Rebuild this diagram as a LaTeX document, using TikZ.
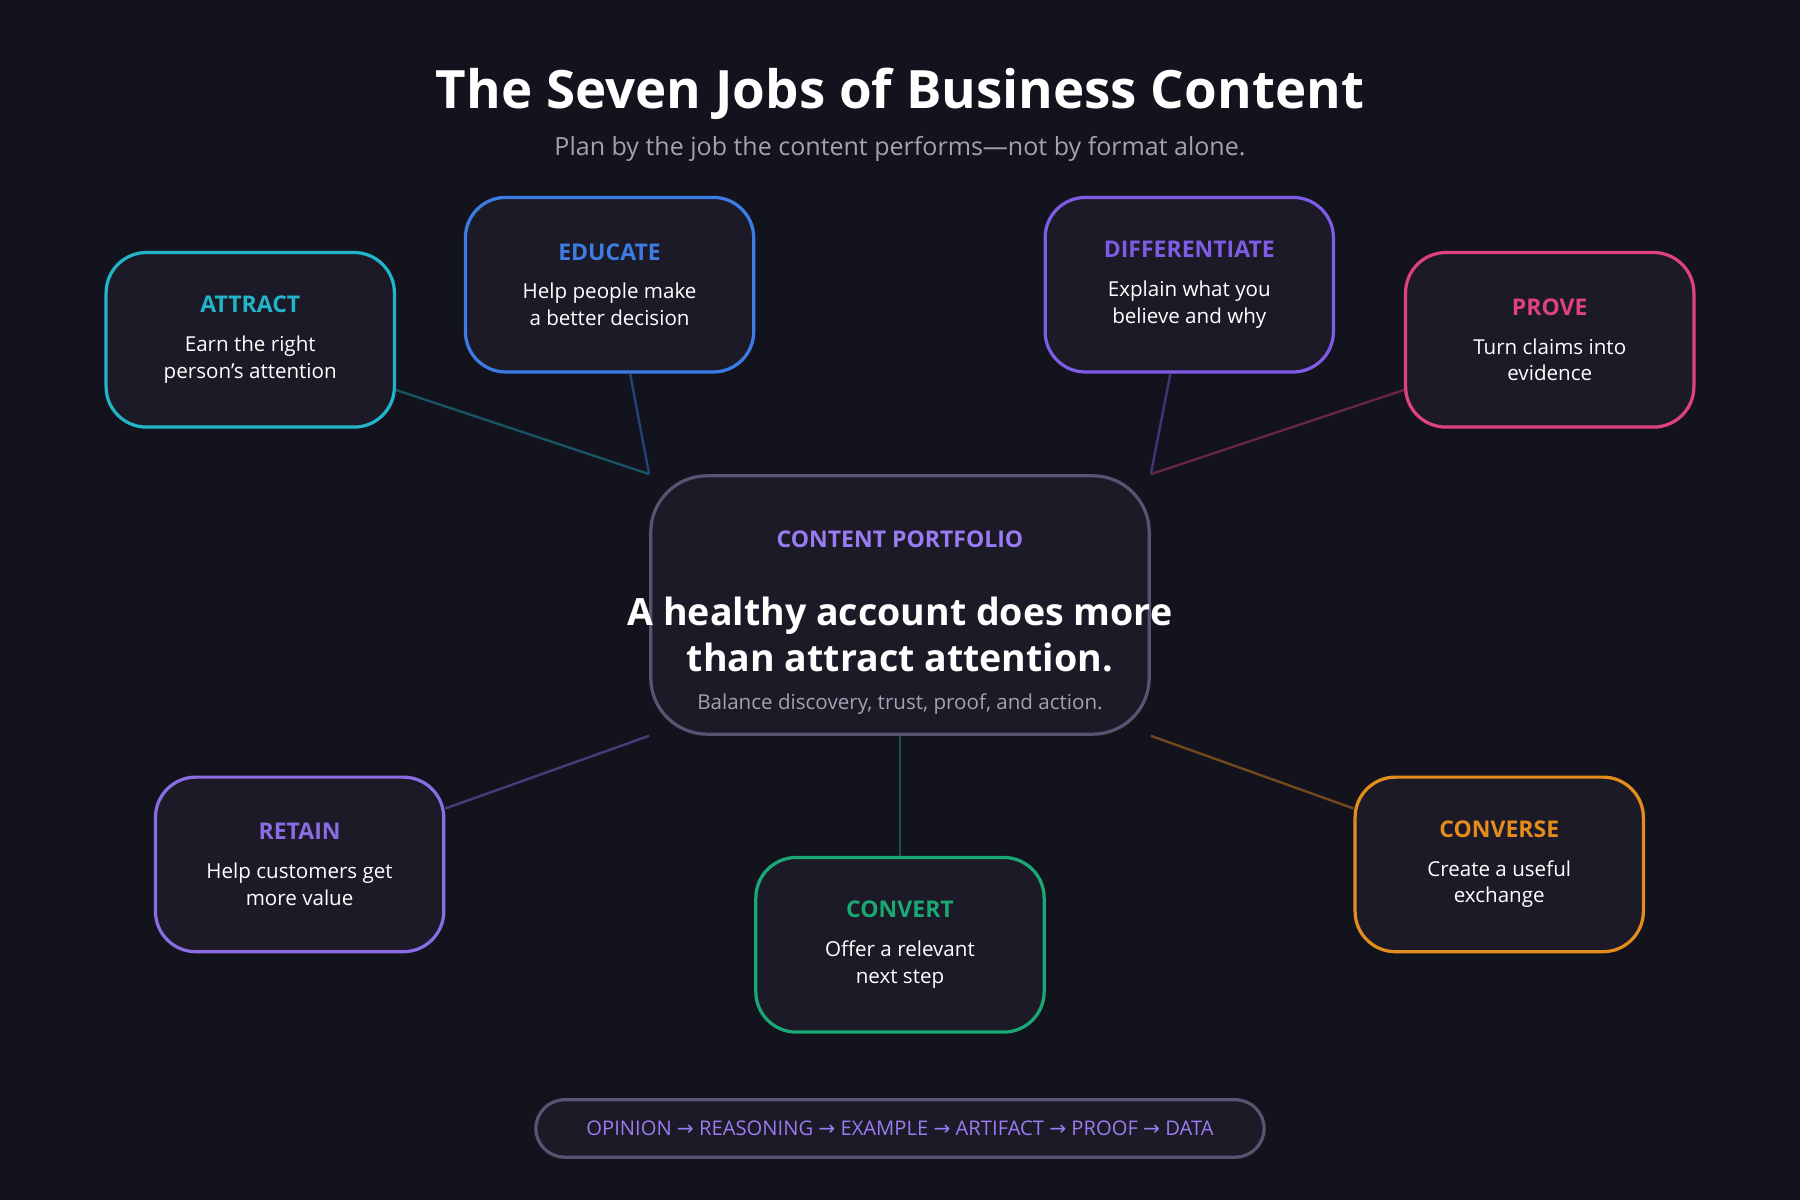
\documentclass[tikz,border=0pt]{standalone}
\usepackage{fontspec}
\setmainfont{Open Sans}
\newfontfamily\arrowfont{DejaVu Sans}
\usetikzlibrary{positioning}
\definecolor{bgdark}{HTML}{13131D}
\definecolor{boxfill}{HTML}{1B1A26}
\definecolor{attractc}{HTML}{22B4C8}
\definecolor{educatec}{HTML}{3C7CE4}
\definecolor{diffc}{HTML}{7F5CE6}
\definecolor{provec}{HTML}{E0427C}
\definecolor{retainc}{HTML}{8A6CE4}
\definecolor{convertc}{HTML}{1AA874}
\definecolor{conversec}{HTML}{E48C1C}
\definecolor{portc}{HTML}{5A5270}
\definecolor{labelc}{HTML}{9A7CF2}
\definecolor{subc}{HTML}{A4A2B0}
\newcommand{\jobhead}[2]{{\color{#1}\fontsize{5.7}{7}\selectfont\bfseries #2}\\[3pt]}
\newcommand{\thento}{~{\arrowfont\fontsize{5}{6}\selectfont →}~}
\begin{document}
\begin{tikzpicture}
[x=0.01cm,y=-0.01cm,
jobnode/.style={rectangle,rounded corners=10pt,draw,line width=0.8pt,fill=boxfill,
minimum width=2.51cm,minimum height=1.52cm,align=center,text=white,inner sep=0pt,
font=\fontsize{5.1}{6.6}\selectfont},
link/.style={line width=0.6pt},
]
\fill[bgdark] (0,0) rectangle (1568,1045);
\useasboundingbox (0,0) rectangle (1568,1045);
% heading
\node[text=white,font=\bfseries\fontsize{13.1}{16}\selectfont] (title) at (784,82) {The Seven Jobs of Business Content};
\node[text=subc,font=\fontsize{6.2}{8}\selectfont] (subtitle) at (784,130) {Plan by the job the content performs---not by format alone.};
% centre
\node[rectangle,rounded corners=14pt,draw=portc,line width=0.8pt,fill=boxfill,
minimum width=4.34cm,minimum height=2.25cm] (portfolio) at (784,527) {};
\node[text=labelc,font=\bfseries\fontsize{5.7}{7}\selectfont] (portlabel) at (784,470) {CONTENT PORTFOLIO};
\node[text=white,font=\bfseries\fontsize{9.3}{11.4}\selectfont,align=center] (portmain) at (784,553) {A healthy account does more\\than attract attention.};
\node[text=subc,font=\fontsize{5.1}{6}\selectfont] (portsub) at (784,613) {Balance discovery, trust, proof, and action.};
% jobs
\node[jobnode,draw=attractc] (attract) at (218,296) {\jobhead{attractc}{ATTRACT}Earn the right\\person’s attention};
\node[jobnode,draw=educatec] (educate) at (531,248) {\jobhead{educatec}{EDUCATE}Help people make\\a better decision};
\node[jobnode,draw=diffc] (differentiate) at (1036,248) {\jobhead{diffc}{DIFFERENTIATE}Explain what you\\believe and why};
\node[jobnode,draw=provec] (prove) at (1350,296) {\jobhead{provec}{PROVE}Turn claims into\\evidence};
\node[jobnode,draw=retainc] (retain) at (261,753) {\jobhead{retainc}{RETAIN}Help customers get\\more value};
\node[jobnode,draw=convertc] (convert) at (784,823) {\jobhead{convertc}{CONVERT}Offer a relevant\\next step};
\node[jobnode,draw=conversec] (converse) at (1306,753) {\jobhead{conversec}{CONVERSE}Create a useful\\exchange};
% links
\draw[link,attractc!40!bgdark] (attract.-19) -- (portfolio.north west);
\draw[link,educatec!45!bgdark] (educate.-77) -- (portfolio.north west);
\draw[link,diffc!45!bgdark] (differentiate.-102) -- (portfolio.north east);
\draw[link,provec!40!bgdark] (prove.-161) -- (portfolio.north east);
\draw[link,retainc!45!bgdark] (retain.21) -- (portfolio.south west);
\draw[link,convertc!45!bgdark] (convert.north) -- (portfolio.south);
\draw[link,conversec!45!bgdark] (converse.159) -- (portfolio.south east);
% chain
\node[rectangle,rounded corners=0.25cm,draw=portc,line width=0.8pt,fill=boxfill,
minimum width=6.34cm,minimum height=0.5cm,text=labelc,font=\fontsize{5}{6}\selectfont] (chain) at (784,983)
{OPINION\thento REASONING\thento EXAMPLE\thento ARTIFACT\thento PROOF\thento DATA};
\end{tikzpicture}
\end{document}
